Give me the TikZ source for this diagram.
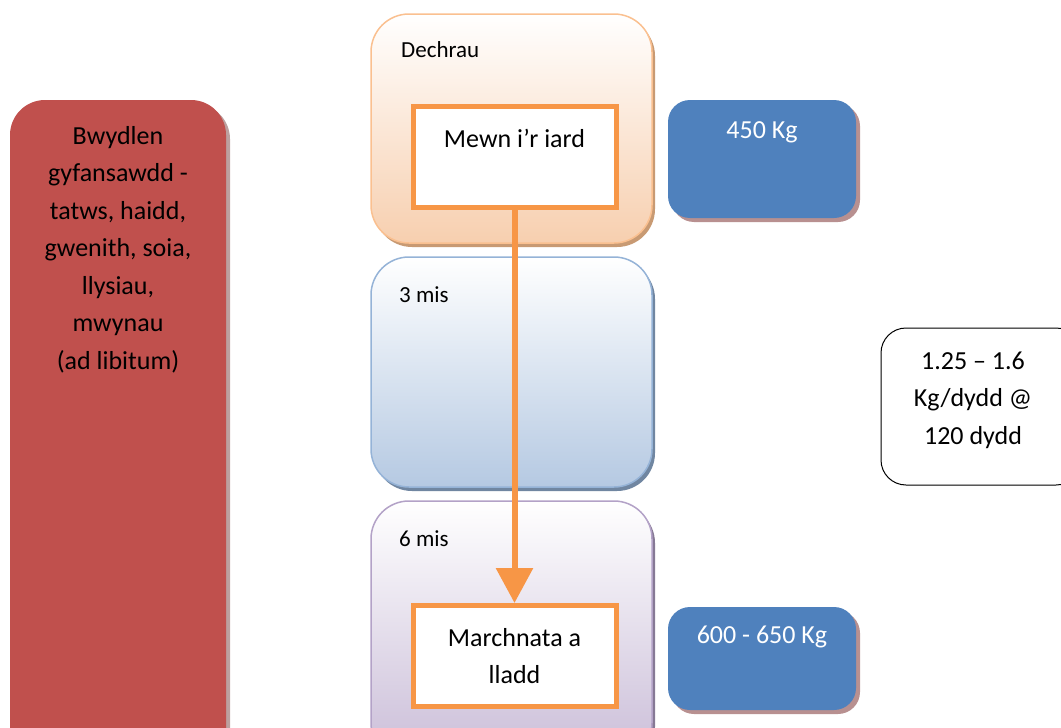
\documentclass[tikz,border=0pt]{standalone}
\usepackage{fontspec}
\setmainfont{Carlito}
\usetikzlibrary{arrows.meta}
\definecolor{redfill}{HTML}{C0504D}
\definecolor{bluefill}{HTML}{4F81BD}
\definecolor{orangeline}{HTML}{F79646}
\definecolor{orangeborder}{HTML}{FAC090}
\definecolor{orangebottom}{HTML}{F7CFAF}
\definecolor{blueborder}{HTML}{95B3D7}
\definecolor{bluebottom}{HTML}{B5C9E2}
\definecolor{purpleborder}{HTML}{B3A2C7}
\definecolor{purplebottom}{HTML}{CABDD8}
\definecolor{shadowbrown}{HTML}{B89090}
\tikzset{
  stagebox/.style={rectangle, rounded corners=38pt, minimum width=281pt, line width=1.5pt, inner sep=0pt},
  eventbox/.style={rectangle, draw=orangeline, line width=5pt, fill=white, minimum width=203pt, minimum height=101pt, inner sep=0pt},
  weightbox/.style={rectangle, rounded corners=22pt, fill=bluefill, minimum width=188pt, inner sep=0pt},
  maintext/.style={font=\fontsize{26}{37.5}\selectfont, align=center, inner sep=0pt},
  stagelabel/.style={font=\fontsize{23}{27}\selectfont, anchor=west, inner sep=0pt},
}
\begin{document}
\begin{tikzpicture}[x=1pt,y=-1pt]
\useasboundingbox (0,0) rectangle (1061,728);
% red menu box
\node[rectangle, rounded corners=35pt, fill=redfill!55!black!45, minimum width=216pt, minimum height=680pt] (redshadow) at (122,444) {};
\node[rectangle, rounded corners=35pt, fill=redfill, minimum width=216pt, minimum height=680pt] (redbox) at (118,440) {};
\node[maintext] (redtxt) at (118,249.5) {Bwydlen\\gyfansawdd -\\tatws, haidd,\\gwenith, soia,\\llysiau,\\mwynau\\(ad libitum)};
% stage boxes with shadows
\node[stagebox, fill=orangeborder!80!black, minimum height=229pt] (s1shadow) at (514.5,132.5) {};
\node[stagebox, draw=orangeborder, top color=white, bottom color=orangebottom, minimum height=229pt] (stage1) at (511.5,128.5) {};
\node[stagebox, fill=blueborder!75!black, minimum height=230pt] (s2shadow) at (514.5,376) {};
\node[stagebox, draw=blueborder, top color=white, bottom color=bluebottom, minimum height=230pt] (stage2) at (511.5,372) {};
\node[stagebox, fill=purpleborder!75!black, minimum height=260pt] (s3shadow) at (514.5,635) {};
\node[stagebox, draw=purpleborder, top color=white, bottom color=purplebottom, minimum height=260pt] (stage3) at (511.5,631) {};
\node[stagelabel] (lab1) at (401,50) {Dechrau};
\node[stagelabel] (lab2) at (399,295) {3 mis};
\node[stagelabel] (lab3) at (399,539) {6 mis};
% event boxes
\node[eventbox] (mewn) at (514.5,156.5) {};
\node[maintext] (mewntxt) at (514.5,138) {Mewn i’r iard};
\node[eventbox] (marchnata) at (514.5,656) {};
\node[maintext] (marchtxt) at (514.5,656) {Marchnata a\\lladd};
\draw[orangeline, line width=6pt, -{Triangle[width=36pt,length=35pt]}] (mewn.south) -- (marchnata.north);
% weight boxes
\node[weightbox, fill=shadowbrown, minimum height=118pt] (w1shadow) at (766,163) {};
\node[weightbox, minimum height=118pt] (w1) at (762,159) {};
\node[maintext, text=white] (w1txt) at (762,132) {450 Kg};
\node[weightbox, fill=shadowbrown, minimum height=103pt] (w2shadow) at (766,662.5) {};
\node[weightbox, minimum height=103pt] (w2) at (762,658.5) {};
\node[maintext, text=white] (w2txt) at (762,637) {600 - 650 Kg};
% growth box
\node[rectangle, rounded corners=25pt, draw=black, line width=1pt, fill=white, minimum width=200pt, minimum height=157pt] (growth) at (981,406.5) {};
\node[maintext] (growthtxt) at (973,400) {1.25 – 1.6\\Kg/dydd @\\120 dydd};
\end{tikzpicture}
\end{document}
